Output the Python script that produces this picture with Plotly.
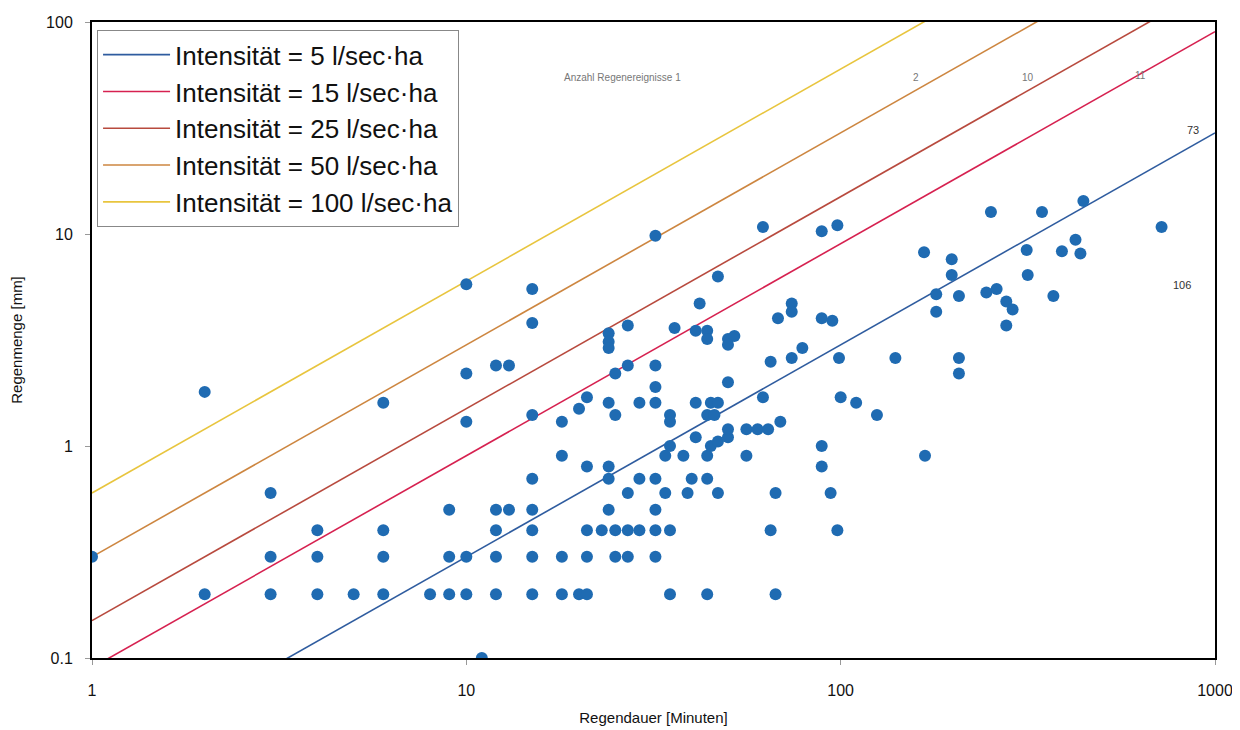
import plotly.graph_objects as go

# Rain events: duration [min] and amount [mm]
dauer = [1, 2, 2, 3, 3, 3, 4, 4, 4, 5, 6, 6, 6, 6, 8, 9, 9, 9,
         10, 10, 10, 10, 10, 11, 12, 13, 12, 13, 12, 12, 12,
         15, 15, 15, 15, 15, 15, 15, 15, 18, 18, 18, 18,
         20, 21, 21, 21, 21, 20, 21, 24, 24, 24, 25, 27, 24, 25,
         24, 24, 24, 27, 27, 23, 25, 27, 29, 32, 35, 25, 27, 32,
         29, 32, 32, 32, 29, 32, 34, 32, 32, 35, 35, 34, 35, 38, 35, 36,
         40, 44, 39, 47, 41, 45, 47, 44, 46, 41, 41, 44, 44, 42, 47,
         44, 45, 47, 50, 50, 44, 50, 50, 52, 50, 56, 60, 64, 56,
         62, 62, 65, 65, 67, 67, 69, 68, 74, 74, 74, 79, 89, 98, 89, 95,
         89, 89, 94, 98, 99, 100, 110, 125, 140, 167, 168, 180, 180,
         198, 198, 207, 207, 207, 245, 261, 277, 288, 277, 252, 345, 445,
         314, 316, 424, 390, 437, 370, 720]
menge = [0.3, 1.8, 0.2, 0.6, 0.3, 0.2, 0.4, 0.3, 0.2, 0.2, 1.6, 0.4, 0.3, 0.2, 0.2, 0.5, 0.3, 0.2,
         5.8, 2.2, 1.3, 0.3, 0.2, 0.1, 2.4, 2.4, 0.5, 0.5, 0.4, 0.3, 0.2,
         5.5, 3.8, 1.4, 0.7, 0.5, 0.4, 0.3, 0.2, 1.3, 0.9, 0.3, 0.2,
         1.5, 1.7, 0.8, 0.4, 0.3, 0.2, 0.2, 3.4, 3.1, 2.9, 2.2, 2.4, 1.6, 1.4,
         0.8, 0.7, 0.5, 3.7, 0.6, 0.4, 0.4, 0.4, 0.4, 0.4, 0.4, 0.3, 0.3, 0.3,
         1.6, 1.6, 1.9, 2.4, 0.7, 0.7, 0.6, 0.5, 9.8, 1.4, 1.3, 0.9, 1.0, 0.9, 0.2, 3.6,
         0.7, 0.7, 0.6, 0.6, 1.6, 1.6, 1.6, 1.4, 1.4, 1.1, 3.5, 3.5, 3.2, 4.7, 6.3,
         0.9, 1.0, 1.05, 1.1, 1.2, 0.2, 2.0, 3.2, 3.3, 3.0, 1.2, 1.2, 1.2, 0.9,
         1.7, 10.8, 2.5, 0.4, 0.6, 0.2, 1.3, 4.0, 4.7, 4.3, 2.6, 2.9, 10.3, 11.0, 4.0, 3.9,
         1.0, 0.8, 0.6, 0.4, 2.6, 1.7, 1.6, 1.4, 2.6, 8.2, 0.9, 5.2, 4.3,
         7.6, 6.4, 5.1, 2.6, 2.2, 5.3, 5.5, 4.8, 4.4, 3.7, 12.7, 12.7, 14.3,
         8.4, 6.4, 9.4, 8.3, 8.1, 5.1, 10.8]

# Intensity lines (rain amount at duration 1 min and 1000 min)
line_names = ["Intensität = 5 l/sec·ha", "Intensität = 15 l/sec·ha", "Intensität = 25 l/sec·ha",
              "Intensität = 50 l/sec·ha", "Intensität = 100 l/sec·ha"]
line_t = [1, 1000]
line_y_start = [0.03, 0.09, 0.15, 0.3, 0.6]
line_y_end = [30, 90, 150, 300, 600]
line_colors = ["#2f5c9f", "#d62150", "#b84a3e", "#cd8640", "#e8c53e"]

# Text labels
anz_texts = ["Anzahl Regenereignisse 1", "2", "10", "11"]
side_texts = ["73", "106"]

fig = go.Figure()
for name, y0, y1, c in zip(line_names, line_y_start, line_y_end, line_colors):
    fig.add_trace(go.Scatter(x=line_t, y=[y0, y1], mode="lines", name=name,
                             line=dict(color=c, width=1.6)))

fig.add_trace(go.Scatter(x=dauer, y=menge, mode="markers", showlegend=False,
                         marker=dict(color="#1f6bb2", size=12, line=dict(width=0))))

ann_pos = [(0.472, 0.925), (0.738, 0.925), (0.8406, 0.925), (0.940, 0.927)]
annotations = []
for t, (px, py) in zip(anz_texts, ann_pos):
    annotations.append(dict(x=px, y=py, xref="paper", yref="paper", text=t, showarrow=False,
                            font=dict(size=10, color="#777777", family="Liberation Sans")))
for t, (px, py) in zip(side_texts, [(0.9875, 0.8425), (0.9806, 0.5865)]):
    annotations.append(dict(x=px, y=py, xref="paper", yref="paper", text=t, showarrow=False,
                            font=dict(size=11, color="#333333", family="Liberation Sans")))

fig.update_layout(
    width=1240, height=730,
    margin=dict(l=84, r=33, t=14, b=80),
    paper_bgcolor="white", plot_bgcolor="white",
    font=dict(family="Liberation Sans", color="#111111"),
    showlegend=True,
    legend=dict(x=0.0045, y=0.987, xanchor="left", yanchor="top",
                bgcolor="white", bordercolor="#888888", borderwidth=1,
                font=dict(size=26, family="Liberation Sans", color="#111111"),
                itemwidth=67, tracegroupgap=0),
    annotations=annotations,
)
fig.update_xaxes(type="log", range=[0, 3], tickvals=[1, 10, 100, 1000],
                 ticktext=["1", "10", "100", "1000"], ticks="outside", ticklen=5,
                 tickcolor="#999999", ticklabelstandoff=12, automargin=False,
                 showline=True, linecolor="black", linewidth=2, mirror=True,
                 showgrid=False, zeroline=False, tickfont=dict(size=16),
                 title=dict(text="Regendauer [Minuten]", font=dict(size=15), standoff=14))
fig.update_yaxes(type="log", range=[-1, 2], tickvals=[0.1, 1, 10, 100],
                 ticktext=["0.1", "1", "10", "100"], ticks="outside", ticklen=5,
                 tickcolor="#999999", ticklabelstandoff=9, automargin=False,
                 showline=True, linecolor="black", linewidth=2, mirror=True,
                 showgrid=False, zeroline=False, tickfont=dict(size=16),
                 title=dict(text="Regenmenge [mm]", font=dict(size=15), standoff=30))

fig.write_html("out.html")
